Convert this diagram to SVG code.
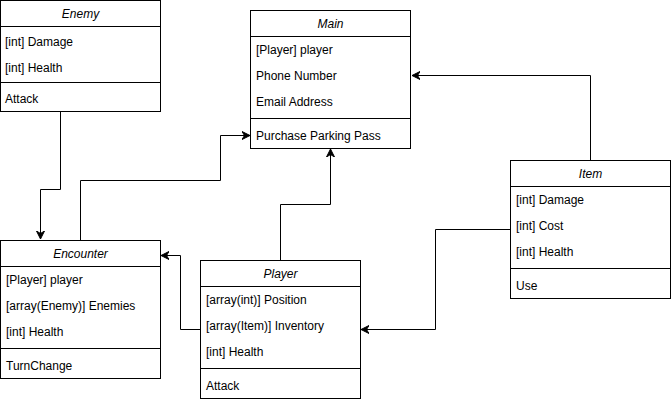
<svg xmlns="http://www.w3.org/2000/svg" width="671" height="402" viewBox="0 0 671 402">
<style>
.box{fill:#fff;stroke:#000;stroke-width:1}
.ln{stroke:#000;stroke-width:1;fill:none}
.t{font-family:"Liberation Sans",Arial,sans-serif;font-size:12px;fill:#000}
.h{font-style:italic;text-anchor:middle}
.c{fill:none;stroke:#000;stroke-width:1;marker-end:url(#arr)}
</style>
<defs>
<marker id="arr" markerUnits="userSpaceOnUse" markerWidth="10" markerHeight="10" viewBox="0 0 10 10" refX="8" refY="5" orient="auto">
<path d="M0,1 L8,5 L0,9 L2.5,5 Z" fill="#000" stroke="#000" stroke-width="1"/>
</marker>
</defs>
<g id="connectors">
<path class="c" d="M60.5,112 V189.5 H40.5 V239"/>
<path class="c" d="M80.5,240 V180.5 H220.5 V135.5 H250"/>
<path class="c" d="M280.5,260 V204.5 H330.5 V149"/>
<path class="c" d="M590.5,160 V75.5 H412"/>
<path class="c" d="M510,229.5 H435.5 V329.5 H361"/>
<path class="c" d="M200,329.5 H180.5 V255.5 H161"/>
</g>
<g id="Enemy">
<rect class="box" x="0.5" y="0.5" width="160" height="111"/>
<line class="ln" x1="0.5" y1="26.5" x2="160.5" y2="26.5"/>
<line class="ln" x1="0.5" y1="82.5" x2="160.5" y2="82.5"/>
<text class="t h" x="80.5" y="18">Enemy</text>
<text class="t" x="5" y="46">[int] Damage</text>
<text class="t" x="5" y="72">[int] Health</text>
<text class="t" x="5" y="103">Attack</text>
</g>
<g id="Main">
<rect class="box" x="250.5" y="10.5" width="160" height="138"/>
<line class="ln" x1="250.5" y1="36.5" x2="410.5" y2="36.5"/>
<line class="ln" x1="250.5" y1="118.5" x2="410.5" y2="118.5"/>
<text class="t h" x="330.5" y="28">Main</text>
<text class="t" x="256" y="54">[Player] player</text>
<text class="t" x="256" y="80">Phone Number</text>
<text class="t" x="256" y="106">Email Address</text>
<text class="t" x="256" y="140">Purchase Parking Pass</text>
</g>
<g id="Item">
<rect class="box" x="510.5" y="160.5" width="160" height="138"/>
<line class="ln" x1="510.5" y1="186.5" x2="670.5" y2="186.5"/>
<line class="ln" x1="510.5" y1="268.5" x2="670.5" y2="268.5"/>
<text class="t h" x="590.5" y="178">Item</text>
<text class="t" x="516" y="204">[int] Damage</text>
<text class="t" x="516" y="230">[int] Cost</text>
<text class="t" x="516" y="256">[int] Health</text>
<text class="t" x="516" y="290">Use</text>
</g>
<g id="Encounter">
<rect class="box" x="0.5" y="240.5" width="160" height="138"/>
<line class="ln" x1="0.5" y1="266.5" x2="160.5" y2="266.5"/>
<line class="ln" x1="0.5" y1="348.5" x2="160.5" y2="348.5"/>
<text class="t h" x="80.5" y="258">Encounter</text>
<text class="t" x="6" y="284">[Player] player</text>
<text class="t" x="6" y="310">[array(Enemy)] Enemies</text>
<text class="t" x="6" y="336">[int] Health</text>
<text class="t" x="6" y="370">TurnChange</text>
</g>
<g id="Player">
<rect class="box" x="200.5" y="260.5" width="160" height="138"/>
<line class="ln" x1="200.5" y1="286.5" x2="360.5" y2="286.5"/>
<line class="ln" x1="200.5" y1="368.5" x2="360.5" y2="368.5"/>
<text class="t h" x="280.5" y="278">Player</text>
<text class="t" x="206" y="304">[array(int)] Position</text>
<text class="t" x="206" y="330">[array(Item)] Inventory</text>
<text class="t" x="206" y="356">[int] Health</text>
<text class="t" x="206" y="390">Attack</text>
</g>
</svg>
